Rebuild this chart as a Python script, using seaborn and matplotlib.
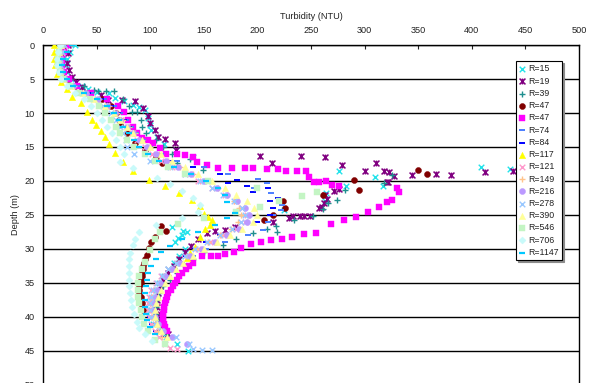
import seaborn as sns
import matplotlib.pyplot as plt
from matplotlib.path import Path

# (depth m, turbidity NTU), one list per profile
r15 = [(0, 30), (1, 25), (2, 22), (3, 21), (4, 22), (5, 26), (6, 36), (6.5, 42), (6.9, 50), (7.1, 62),
       (7.8, 67), (8.3, 76), (8.8, 84), (9.1, 90), (9.6, 95), (10.8, 98), (11.8, 100), (12.5, 101),
       (13.5, 106), (14.5, 113), (15.5, 124), (16.5, 140), (17.9, 409), (18.2, 436), (18.5, 276),
       (19.4, 310), (20.7, 317), (20.8, 283), (21.8, 264), (23, 263), (24.2, 225), (26.7, 120),
       (27.3, 131), (27.5, 134), (28, 130), (28.4, 126), (29, 123), (30, 132), (31, 127), (32, 122),
       (33, 117), (34, 113), (35, 108), (36, 105), (37, 103), (38, 102), (39, 101), (40, 101),
       (41, 103), (42, 108), (43, 115), (44, 125), (45, 135)]
r19 = [(0, 23), (1.2, 23), (2.6, 22), (3.7, 24), (4.7, 27), (5.4, 31), (6.2, 36), (7.1, 41), (7.4, 54),
       (8.1, 61), (8.1, 74), (8.2, 86), (9.3, 93), (10.5, 98), (11.5, 100), (12.5, 104), (13.5, 107),
       (13.8, 114), (14.4, 123), (15.4, 124), (16.3, 202), (16.3, 241), (16.5, 263), (17.3, 311),
       (17.4, 214), (17.6, 279), (18.5, 318), (18.6, 300), (18.7, 323), (18.9, 367), (19.1, 344),
       (19.1, 381), (18.7, 412), (18.6, 438), (19.3, 327), (20.1, 322), (20.2, 321), (21.2, 276),
       (21.5, 271), (22, 263), (22.7, 265), (23.2, 262), (23.8, 260), (24, 257), (25.1, 240),
       (25.1, 243), (25.2, 249), (25.2, 233), (25.5, 229), (26, 215), (26.8, 179), (27.2, 170),
       (27.3, 160), (27.6, 153), (28.5, 145), (29.5, 138), (30.5, 132), (31.5, 127), (32.5, 122),
       (33.5, 117), (34.5, 112), (35.5, 109), (36.5, 107), (37.5, 106), (38.5, 106), (39.5, 107),
       (40.5, 109), (41.5, 112), (42.5, 117)]
r39 = [(0, 20), (1, 18), (2, 17), (3, 18), (4, 20), (5, 25), (6, 38), (6.6, 48), (6.8, 51), (6.7, 59),
       (6.7, 66), (8, 75), (9, 80), (9.9, 83), (9.9, 88), (11, 91), (12, 92), (13, 96), (14, 105),
       (15, 112), (16, 120), (16.7, 137), (17.4, 125), (18.4, 149), (19.1, 326), (20.3, 318),
       (21.3, 282), (22.8, 274), (23.3, 266), (24.1, 261), (25.1, 252), (25.7, 234), (26.6, 217),
       (27.1, 209), (27.5, 218), (27.7, 196), (28.5, 180), (29.4, 168), (30.5, 150), (31.5, 140),
       (32.5, 132), (33.5, 125), (34.5, 118), (35.5, 112), (36.5, 108), (37.5, 106), (38.5, 105),
       (39.5, 105), (40.5, 107), (41.5, 110), (42.5, 115)]
r47a = [(0, 20), (1, 18), (2, 17), (3, 17), (4, 19), (5, 23), (6, 30), (7, 42), (8, 55), (9, 63),
        (10, 68), (11, 71), (11.8, 72), (13, 78), (14.4, 86), (15.5, 95), (16.5, 105), (17.4, 111),
        (18.4, 350), (19, 358), (19.9, 290), (21.3, 295), (22, 261), (23, 224), (24, 226), (25, 215),
        (25.7, 206), (26.6, 110), (27.4, 115), (28.2, 104), (29, 101), (29.9, 99), (30.9, 97),
        (31.5, 95), (32, 94), (32.5, 93), (33, 93), (33.5, 92), (34, 92), (34.5, 91), (35, 91),
        (35.5, 90), (36, 90), (36.5, 90), (37, 91), (37.5, 91), (38, 92), (38.5, 92), (39, 93)]
r47b = [(0, 22), (1, 20), (2, 18), (3, 18), (4, 20), (5, 24), (6, 32), (7, 45), (8, 60), (9, 70),
        (9.9, 76), (11, 79), (12, 84), (13, 88), (13.7, 92), (14, 98), (14.4, 103), (15.2, 109),
        (16, 115), (16, 125), (16.2, 132), (16.4, 140), (17.2, 144), (17.6, 153), (18.1, 163),
        (18.1, 176), (18.1, 188), (18.1, 196), (18.3, 209), (18.3, 219), (18.5, 227), (18.5, 237),
        (18.5, 245), (19.4, 248), (20.2, 253), (20.2, 257), (20, 264), (20.6, 270), (20.8, 276),
        (21.1, 330), (21.6, 332), (22.8, 326), (23.1, 321), (23.8, 313), (24.5, 303), (25.3, 292),
        (25.7, 281), (26.3, 269), (27.7, 255), (27.8, 243), (28.2, 232), (28.5, 223), (28.7, 213),
        (29, 203), (29.3, 194), (29.8, 185), (30.4, 178), (30.8, 170), (31, 163), (31.1, 157),
        (31.1, 148), (32, 140), (32.5, 136), (33, 133), (33.5, 130), (34, 127), (34.5, 125),
        (35, 123), (35.5, 121), (36, 119), (36.5, 117), (37, 116), (37.5, 115), (38, 114),
        (38.5, 113), (39, 113), (39.5, 112), (40, 112), (40.5, 112), (41, 113), (41.5, 114), (42, 116)]
r74 = [(0, 18), (1, 16), (2, 15), (3, 16), (4, 18), (5, 22), (6, 32), (7, 45), (8, 57), (9, 66),
       (10, 72), (11, 77), (12, 82), (13, 87), (14, 93), (15, 100), (16, 110), (17, 125), (18, 150),
       (19, 173), (19.7, 201), (20.3, 209), (21, 197), (21.8, 213), (22.5, 219), (23.5, 223),
       (24.3, 222), (25, 215), (26, 210), (27.2, 205), (27.9, 191), (29, 170), (30, 152), (31, 140),
       (32, 130), (33, 123), (34, 117), (35, 112), (36, 108), (37, 105), (38, 103), (39, 102),
       (40, 102), (41, 104), (42, 108)]
r84 = [(0, 20), (1, 17), (2, 16), (3, 16), (4, 18), (5, 21), (6, 29), (7, 42), (8, 54), (9, 63),
       (10, 70), (11, 76), (12, 80), (13, 85), (14, 90), (15, 97), (16, 105), (17, 118), (18, 140),
       (19, 165), (19.8, 181), (20.3, 173), (20.8, 190), (21.1, 210), (21.6, 196), (22.5, 219),
       (23, 212), (24, 215), (25, 212), (26, 200), (27, 180), (28, 165), (29, 152), (30, 142),
       (31, 133), (32, 126), (33, 120), (34, 114), (35, 109), (36, 106), (37, 103), (38, 101),
       (39, 100), (40, 100), (41, 102), (42, 105), (43, 110)]
r117 = [(0, 10), (1, 10), (2, 10), (3, 11), (4.2, 13), (5.5, 17), (6.5, 22), (7.6, 27), (8.6, 35),
        (9.8, 41), (11, 46), (11.8, 49), (12.6, 54), (13.5, 58), (14.5, 62), (15.9, 67), (17.2, 75),
        (18.6, 84), (19.8, 99), (20.7, 114), (21.8, 127), (22.8, 139), (23.7, 146), (24.9, 150),
        (25.3, 154), (25.8, 158), (26.5, 156), (27, 151), (28.2, 146), (29.7, 142), (30.6, 137),
        (31.3, 134)]
r121 = [(0, 20), (1, 18), (2, 16), (3, 16), (4, 17), (5, 20), (6, 27), (7, 38), (8, 50), (9, 60),
        (10, 67), (11, 73), (12, 78), (13, 83), (14, 88), (15, 95), (16, 102), (17, 110), (18, 120),
        (19, 132), (20, 145), (21, 158), (22, 170), (23, 180), (24, 186), (25, 190), (26, 188),
        (27, 180), (28, 168), (29, 156), (30, 145), (31, 135), (32, 125), (33, 117), (34, 110),
        (35, 105), (36, 101), (37, 99), (38, 98), (39, 98), (40, 99), (41, 101), (42, 104),
        (43, 108), (44, 114), (44.6, 118), (44.7, 125)]
r149 = [(0, 19), (1, 17), (2, 16), (3, 16), (4, 18), (5, 21), (6, 29), (7, 40), (8, 52), (9, 62),
        (10, 69), (11, 75), (12, 80), (13, 86), (14, 92), (15, 100), (16, 108), (17, 117), (18, 128),
        (19, 140), (20, 152), (21, 163), (22, 172), (23, 178), (24, 183), (25, 185), (26, 182),
        (27, 175), (28, 165), (29, 154), (30, 144), (31, 134), (32, 126), (33, 119), (34, 113),
        (35, 108), (36, 104), (37, 102), (38, 101), (39, 101), (40, 102), (41, 104), (42, 107),
        (43, 111)]
r216 = [(0, 18), (1, 16), (2, 15), (3, 15), (4, 17), (5, 20), (6, 28), (7, 40), (8, 51), (9, 60),
        (10, 67), (11, 72), (12, 78), (13, 84), (14, 90), (15, 97), (16, 105), (17, 115), (18, 126),
        (19, 138), (20, 150), (21, 162), (22, 172), (23, 181), (24, 188), (25, 192), (26, 190),
        (27, 183), (28, 172), (29, 160), (30, 148), (31, 137), (32, 128), (33, 120), (34, 114),
        (35, 109), (36, 106), (37, 104), (38, 103), (39, 103), (40, 104), (41, 107), (42, 112),
        (43, 120), (44, 134)]
r278 = [(0, 20), (1, 18), (2, 16), (3, 16), (4, 17), (5, 20), (6, 26), (7, 36), (8, 47), (9, 56),
        (10, 63), (11, 68), (12, 72), (13, 75), (14, 77), (15, 78), (16, 85), (17, 100), (18, 118),
        (19, 132), (20, 146), (21, 158), (22, 168), (23, 178), (24, 186), (25, 188), (26, 185),
        (27, 176), (28, 165), (29, 153), (30, 142), (31, 132), (32, 124), (33, 117), (34, 111),
        (35, 106), (36, 103), (37, 101), (38, 100), (39, 100), (40, 101), (41, 104), (42, 110),
        (43, 124), (44, 136), (44.7, 140), (44.8, 148), (44.8, 158)]
r390 = [(0, 17), (1, 15), (2, 14), (3, 14), (4, 16), (5, 19), (6, 26), (7, 37), (8, 48), (9, 58),
        (10, 66), (11, 72), (12, 78), (13, 84), (14, 92), (15, 100), (16, 110), (17, 120), (18, 132),
        (19, 145), (20, 158), (21, 170), (22, 180), (23, 190), (24, 197), (25, 200), (26, 196),
        (27, 186), (28, 174), (29, 162), (30, 150), (31, 140), (32, 131), (33, 124), (34, 118),
        (35, 114), (36, 110), (37, 107), (38, 105), (39, 104), (40, 104), (41, 106), (42, 110),
        (43, 116)]
r546 = [(0, 17), (1, 15), (2, 14), (3, 14), (4, 16), (5, 19), (6, 25), (7, 34), (8, 44), (9, 52),
        (10, 58), (11, 63), (12, 68), (13, 72), (14, 78), (15, 85), (16, 95), (17, 104), (18, 117),
        (19, 132), (20, 154), (21, 200), (21.6, 256), (22.2, 242), (23, 220), (23.8, 202),
        (24.5, 180), (25.5, 150), (26.3, 126), (27.5, 109), (28.5, 104), (30.1, 100), (31.9, 95),
        (33, 92), (34, 90), (35, 89), (36, 89), (37, 89), (38, 90), (39, 91), (40, 92), (41, 94),
        (42, 98), (43.4, 104), (44, 114)]
r706 = [(0, 16), (1, 14), (2, 13), (3, 13), (4, 15), (5, 17), (6, 22), (7, 30), (8, 38), (9, 45),
        (10, 50), (11, 55), (12, 60), (13, 64), (14, 68), (15, 72), (16, 76), (17.2, 72), (18.1, 84),
        (19.5, 106), (20.5, 118), (21.5, 130), (22.5, 140), (23.5, 146), (24.5, 145), (25.5, 130),
        (26.5, 105), (27.5, 90), (28.5, 86), (29.4, 84), (30.6, 81), (31.5, 80), (32.5, 80),
        (33.5, 80), (34.5, 80), (35.5, 80), (36.5, 81), (37.5, 82), (38.5, 83), (39.5, 85),
        (40.7, 88), (41.6, 90), (42.5, 95), (43.5, 102)]
r1147 = [(0, 27), (1, 22), (2, 19), (3, 18), (4, 19), (5, 22), (6, 28), (7, 38), (8, 50), (9, 60),
         (10, 66), (11, 71), (12, 75), (13, 80), (14, 85), (15, 90), (16, 98), (17, 108), (18, 122),
         (19, 138), (20, 152), (21, 163), (22, 170), (23.1, 172), (24.7, 179), (25.5, 172),
         (26.5, 160), (27.5, 145), (28.5, 130), (29.5, 118), (30.5, 110), (31.5, 105), (32.5, 101),
         (33.5, 98), (34.5, 97), (35.5, 96), (36.5, 95), (37.5, 95), (38.5, 95), (39.5, 96),
         (40.5, 97), (41.5, 100), (42.5, 104)]

labels = ["R=15", "R=19", "R=39", "R=47", "R=47", "R=74", "R=84", "R=117", "R=121",
          "R=149", "R=216", "R=278", "R=390", "R=546", "R=706", "R=1147"]
profiles = [r15, r19, r39, r47a, r47b, r74, r84, r117, r121, r149, r216, r278, r390, r546, r706, r1147]

# Excel "star": an x with a vertical stroke
star = Path([(-1, -1), (1, 1), (-1, 1), (1, -1), (0, -1), (0, 1)],
            [Path.MOVETO, Path.LINETO, Path.MOVETO, Path.LINETO, Path.MOVETO, Path.LINETO])

styles = [
    ("#22e3ea", "x", 16, 1.0),
    ("#800080", star, 18, 1.1),
    ("#1f8f8f", "+", 20, 1.0),
    ("#800000", "o", 19, 0.3),
    ("#ff00ff", "s", 20, 0.3),
    ("#4a7dff", "_", 15, 1.4),
    ("#0000ff", "_", 13, 1.4),
    ("#ffff00", "^", 21, 0.3),
    ("#ff99cc", "x", 16, 1.0),
    ("#ffc48c", "+", 20, 1.0),
    ("#bb99ff", "o", 19, 0.3),
    ("#99c8ff", "x", 16, 1.0),
    ("#ffff99", "^", 21, 0.3),
    ("#c4f5c4", "s", 19, 0.3),
    ("#c8fafa", "D", 13, 0.3),
    ("#00c8ff", "_", 17, 1.6),
]

sns.set_style("white")
plt.rcParams["font.family"] = ["Liberation Sans", "DejaVu Sans"]

fig = plt.figure(figsize=(5.9, 3.83), dpi=100)
ax = fig.add_axes([0.0729, -0.0052, 0.9085, 0.8877])

for pts, label, (color, marker, size, lw) in zip(profiles, labels, styles):
    depth = [p[0] for p in pts]
    ntu = [p[1] for p in pts]
    sns.scatterplot(x=ntu, y=depth, ax=ax, color=color, marker=marker, s=size,
                    linewidth=lw, edgecolor=color, label=label, zorder=3)

ax.set_xlim(0, 500)
ax.set_ylim(50, 0)
ax.xaxis.tick_top()
ax.xaxis.set_label_position("top")
ax.set_xticks(range(0, 501, 50))
ax.set_yticks(range(0, 51, 5))
ax.set_xlabel("Turbidity (NTU)", fontsize=6.6, labelpad=5, color="#222222")
ax.set_ylabel("Depth (m)", fontsize=6.6, labelpad=3, color="#222222")
ax.tick_params(axis="x", direction="in", length=3, width=0.8, pad=7, labelsize=6.6,
               colors="#222222", top=True, bottom=False)
ax.tick_params(axis="y", length=0, pad=6, labelsize=6.6, colors="#222222")
ax.yaxis.grid(True, color="black", linewidth=1.0)
ax.xaxis.grid(False)
ax.set_axisbelow(True)
for side in ["left", "top", "right", "bottom"]:
    ax.spines[side].set_color("black")
    ax.spines[side].set_linewidth(1.0)

leg = ax.legend(loc="upper left", bbox_to_anchor=(0.883, 0.952), fontsize=6.3,
                frameon=True, fancybox=False, framealpha=1,
                shadow={"ox": 1.2, "oy": -1.2, "color": "0.55", "alpha": 1},
                edgecolor="black", borderpad=0.35, labelspacing=0.37,
                handlelength=0.7, handletextpad=0.35, borderaxespad=0)
leg.get_frame().set_linewidth(0.8)
for t in leg.get_texts():
    t.set_color("#222222")

fig.savefig("out.png", dpi=100)
